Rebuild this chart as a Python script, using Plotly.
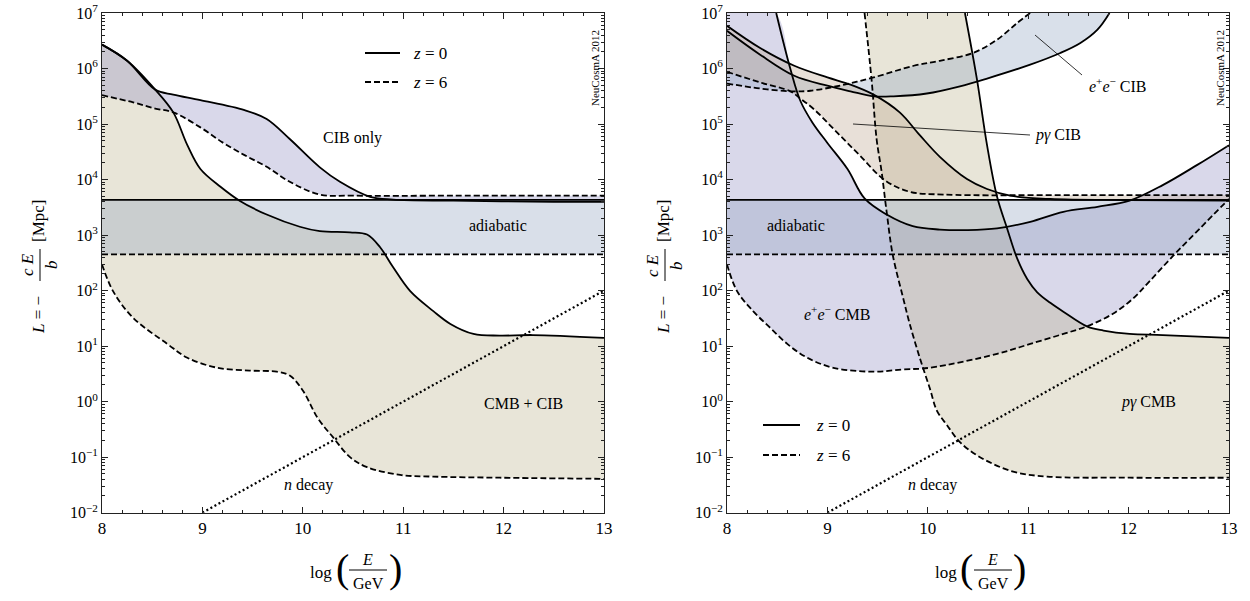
import numpy as np
import plotly.graph_objects as go

W, H = 1250, 601
SERIF = "'Liberation Serif', 'DejaVu Serif', 'Times New Roman', serif"

# ---------------------------------------------------------------------------
# Energy-loss lengths  L = -cE/b  versus log10(E/GeV); lengths stored as log10(L/Mpc)
# ---------------------------------------------------------------------------
E_MIN, E_MAX = 8.0, 13.0
LOG_L_MIN, LOG_L_MAX = -2, 7
LOG_L_OFF_TOP = 7.6          # closes filled regions above the frame

ADIABATIC_Z0 = 4.3e3
ADIABATIC_Z6 = 4.5e2

n_decay_x = [9.0, 13.0]
n_decay_logL = [-2.0, 2.0]

# left panel: CIB only
cib_z0_x = [8.00, 8.25, 8.53, 8.71, 8.98, 9.42, 9.64, 9.87, 10.17, 10.37, 10.67, 10.90, 11.50, 12.50, 13.00]
cib_z0_logL = [6.43, 6.14, 5.62, 5.53, 5.43, 5.25, 5.09, 4.73, 4.22, 3.96, 3.69, 3.64, 3.62, 3.60, 3.60]
cib_z6_x = [8.00, 8.31, 8.53, 8.71, 8.98, 9.20, 9.42, 9.64, 9.87, 10.17, 10.50, 11.50, 13.00]
cib_z6_logL = [5.52, 5.39, 5.28, 5.21, 4.94, 4.67, 4.44, 4.23, 3.96, 3.73, 3.71, 3.71, 3.71]

# left panel: CMB + CIB
cmbcib_z0_x = [8.00, 8.25, 8.53, 8.71, 8.85, 8.98, 9.18, 9.37, 9.64, 9.97, 10.17, 10.47, 10.64,
               10.77, 10.90, 11.07, 11.30, 11.47, 11.70, 11.96, 12.29, 13.00]
cmbcib_z0_logL = [6.43, 6.14, 5.62, 5.21, 4.62, 4.19, 3.87, 3.62, 3.37, 3.15, 3.07, 3.05, 3.01,
                  2.78, 2.42, 1.99, 1.63, 1.40, 1.22, 1.19, 1.20, 1.15]
cmbcib_z6_x = [8.00, 8.11, 8.31, 8.65, 8.85, 9.15, 9.47, 9.74, 9.87, 10.00, 10.15, 10.30, 10.47,
               10.64, 10.97, 11.30, 11.96, 13.00]
cmbcib_z6_logL = [2.47, 1.99, 1.51, 1.04, 0.79, 0.61, 0.56, 0.54, 0.47, 0.20, -0.30, -0.64, -1.00,
                  -1.18, -1.32, -1.35, -1.37, -1.39]

# right panel: e+e- pair production on the CMB
eecmb_z0_x = [8.49, 8.63, 8.73, 8.85, 9.00, 9.20, 9.37, 9.59, 9.85, 10.12, 10.40, 10.69, 11.02,
              11.35, 11.69, 12.01, 12.34, 12.68, 13.00]
eecmb_z0_logL = [7.00, 6.00, 5.42, 5.03, 4.66, 4.19, 3.66, 3.37, 3.16, 3.10, 3.09, 3.12, 3.24,
                 3.42, 3.51, 3.62, 3.90, 4.26, 4.62]
eecmb_z6_x = [8.00, 8.10, 8.26, 8.43, 8.60, 8.80, 9.06, 9.45, 9.75, 10.02, 10.69, 11.02, 11.35,
              11.59, 11.84, 12.04, 12.21, 12.44, 12.71, 13.00]
eecmb_z6_logL = [2.47, 1.99, 1.63, 1.33, 1.04, 0.79, 0.61, 0.54, 0.58, 0.61, 0.86, 1.04, 1.22,
                 1.36, 1.58, 1.85, 2.17, 2.62, 3.12, 3.65]

# right panel: photo-pion production on the CMB
pgcmb_z0_x = [10.37, 10.49, 10.59, 10.69, 10.79, 10.89, 10.99, 11.09, 11.22, 11.35, 11.59, 11.75,
              12.01, 12.34, 13.00]
pgcmb_z0_logL = [7.00, 5.80, 4.62, 3.69, 3.12, 2.58, 2.21, 1.97, 1.78, 1.62, 1.35, 1.28,
                 1.22, 1.20, 1.15]
pgcmb_z6_x = [9.37, 9.44, 9.49, 9.54, 9.59, 9.65, 9.75, 9.82, 9.92, 10.02, 10.09, 10.19, 10.32,
              10.52, 10.85, 11.19, 12.01, 13.00]
pgcmb_z6_logL = [7.00, 5.80, 4.73, 4.14, 3.42, 2.65, 1.90, 1.40, 0.79, 0.24, -0.16, -0.42, -0.73,
                 -1.00, -1.26, -1.35, -1.37, -1.37]

# right panel: e+e- pair production on the CIB
eecib_z0_x = [8.00, 8.33, 8.67, 9.00, 9.23, 9.46, 9.66, 9.99, 10.32, 10.59, 11.02, 11.32, 11.52,
              11.69, 11.81]
eecib_z0_logL = [6.68, 6.25, 5.87, 5.69, 5.59, 5.50, 5.50, 5.55, 5.68, 5.82, 6.07, 6.28, 6.46,
                 6.70, 7.00]
eecib_z6_x = [8.00, 8.33, 8.63, 8.83, 9.17, 9.46, 9.86, 10.12, 10.45, 10.69, 10.89, 11.02]
eecib_z6_logL = [5.73, 5.64, 5.59, 5.60, 5.71, 5.84, 6.05, 6.14, 6.28, 6.52, 6.82, 7.00]

# right panel: photo-pion production on the CIB
pgcib_z0_x = [8.00, 8.33, 8.67, 9.00, 9.23, 9.46, 9.72, 9.92, 10.12, 10.39, 10.59, 10.82, 11.22,
              12.00, 13.00]
pgcib_z0_logL = [6.77, 6.37, 6.05, 5.84, 5.71, 5.53, 5.21, 4.80, 4.41, 4.01, 3.83, 3.71, 3.65,
                 3.63, 3.62]
pgcib_z6_x = [8.00, 8.33, 8.63, 8.73, 8.87, 9.10, 9.32, 9.57, 9.82, 10.16, 11.50, 13.00]
pgcib_z6_logL = [5.94, 5.75, 5.59, 5.46, 5.26, 4.84, 4.44, 3.99, 3.78, 3.73, 3.72, 3.72]

# fill colours (translucent so that overlapping regions darken)
BEIGE = "rgba(189,181,144,0.35)"
LAVENDER = "rgba(146,144,195,0.35)"
BAND = "rgba(146,164,192,0.35)"
BLUE = "rgba(147,166,195,0.35)"
TAN = "rgba(189,166,144,0.35)"

LW = 1.8
DASH = "6px,3px"
DOT = "2px,2.6px"

fig = go.Figure()


def L(logs):
    return (10.0 ** np.asarray(logs, dtype=float)).tolist()


def region(lo_x, lo_log, hi_x, hi_log, color, xa, ya):
    """Fill the area between two curves (lower first, upper second)."""
    common = dict(mode="lines", hoverinfo="skip", showlegend=False, xaxis=xa, yaxis=ya)
    fig.add_trace(go.Scatter(x=lo_x, y=L(lo_log), line=dict(width=0, shape="spline"), **common))
    fig.add_trace(go.Scatter(x=hi_x, y=L(hi_log), line=dict(width=0, shape="spline"),
                             fill="tonexty", fillcolor=color, **common))


def curve(x, logs, xa, ya, dash="solid", width=LW, shape="spline"):
    fig.add_trace(go.Scatter(x=x, y=L(logs), mode="lines", hoverinfo="skip", showlegend=False,
                             line=dict(color="black", width=width, dash=dash, shape=shape),
                             xaxis=xa, yaxis=ya))


band_x = [E_MIN, E_MAX]
band_lo = [np.log10(ADIABATIC_Z6)] * 2
band_hi = [np.log10(ADIABATIC_Z0)] * 2

# ---------------- left panel ----------------
region(cmbcib_z6_x, cmbcib_z6_logL, cmbcib_z0_x, cmbcib_z0_logL, BEIGE, "x", "y")
region(cib_z6_x, cib_z6_logL, cib_z0_x, cib_z0_logL, LAVENDER, "x", "y")
region(band_x, band_lo, band_x, band_hi, BAND, "x", "y")

curve(band_x, band_hi, "x", "y")
curve(band_x, band_lo, "x", "y", dash=DASH)
curve(cib_z0_x, cib_z0_logL, "x", "y")
curve(cib_z6_x, cib_z6_logL, "x", "y", dash=DASH)
curve(cmbcib_z0_x, cmbcib_z0_logL, "x", "y")
curve(cmbcib_z6_x, cmbcib_z6_logL, "x", "y", dash=DASH)
curve(n_decay_x, n_decay_logL, "x", "y", dash=DOT, width=2.2, shape="linear")

# ---------------- right panel ----------------
region(eecmb_z6_x, eecmb_z6_logL, [E_MIN] + eecmb_z0_x, [LOG_L_OFF_TOP] + eecmb_z0_logL,
       LAVENDER, "x2", "y2")
region(pgcmb_z6_x, pgcmb_z6_logL, pgcmb_z0_x, pgcmb_z0_logL, BEIGE, "x2", "y2")
region(eecib_z0_x, eecib_z0_logL, eecib_z6_x, eecib_z6_logL, BLUE, "x2", "y2")
region(pgcib_z6_x, pgcib_z6_logL, pgcib_z0_x, pgcib_z0_logL, TAN, "x2", "y2")
region(band_x, band_lo, band_x, band_hi, BAND, "x2", "y2")

curve(band_x, band_hi, "x2", "y2")
curve(band_x, band_lo, "x2", "y2", dash=DASH)
curve(eecmb_z0_x, eecmb_z0_logL, "x2", "y2")
curve(eecmb_z6_x, eecmb_z6_logL, "x2", "y2", dash=DASH)
curve(pgcmb_z0_x, pgcmb_z0_logL, "x2", "y2")
curve(pgcmb_z6_x, pgcmb_z6_logL, "x2", "y2", dash=DASH)
curve(eecib_z0_x, eecib_z0_logL, "x2", "y2")
curve(eecib_z6_x, eecib_z6_logL, "x2", "y2", dash=DASH)
curve(pgcib_z0_x, pgcib_z0_logL, "x2", "y2")
curve(pgcib_z6_x, pgcib_z6_logL, "x2", "y2", dash=DASH)
curve(n_decay_x, n_decay_logL, "x2", "y2", dash=DOT, width=2.2, shape="linear")

# ---------------- axes ----------------
x_ticks = [8, 9, 10, 11, 12, 13]
y_exps = list(range(LOG_L_MIN, LOG_L_MAX + 1))
y_tickvals = [10.0 ** k for k in y_exps]
y_ticktext = ["10<sup>%s</sup>" % (str(k).replace("-", "\u2212")) for k in y_exps]
y_minor = [m * 10.0 ** k for k in range(LOG_L_MIN, LOG_L_MAX) for m in range(2, 10)]
EPS = 2e-4   # keeps the end ticks (10^-2, 10^7) inside the axis range

FRAME_TOP, FRAME_BOTTOM = 13, 512.7   # pixel rows of the frame

tickfont = dict(family=SERIF, size=16, color="black")


def xaxis(domain, anchor):
    return dict(domain=domain, anchor=anchor, range=[E_MIN - 1e-4, E_MAX + 1e-4],
                tickmode="array",
                tickvals=x_ticks, ticks="inside", ticklen=6, tickcolor="#222", tickwidth=1,
                minor=dict(tick0=8, dtick=0.2, ticks="inside", ticklen=3, tickcolor="#222"),
                showline=True, linecolor="#222", linewidth=1, mirror="allticks",
                showgrid=False, zeroline=False, tickfont=dict(tickfont, size=17),
                automargin=False, ticklabeloverflow="allow")


def yaxis(anchor):
    return dict(domain=[1 - FRAME_BOTTOM / H, 1 - FRAME_TOP / H], anchor=anchor, type="log",
                range=[LOG_L_MIN - EPS, LOG_L_MAX + EPS], tickmode="array", tickvals=y_tickvals,
                ticktext=y_ticktext, ticks="inside", ticklen=6, tickcolor="#222", tickwidth=1,
                minor=dict(tickmode="array", tickvals=y_minor, ticks="inside", ticklen=3,
                           tickcolor="#222"),
                showline=True, linecolor="#222", linewidth=1, mirror="allticks",
                showgrid=False, zeroline=False, tickfont=tickfont, automargin=False,
                ticklabeloverflow="allow")


fig.update_layout(
    width=W, height=H, autosize=False,
    margin=dict(l=0, r=0, t=0, b=0),
    paper_bgcolor="white", plot_bgcolor="white",
    font=dict(family=SERIF, color="black"),
    xaxis=xaxis([102 / W, 604 / W], "y"),
    yaxis=yaxis("x"),
    xaxis2=xaxis([727 / W, 1229 / W], "y2"),
    yaxis2=yaxis("x2"),
    showlegend=False,
)


# ---------------- text, labels and keys (pixel positions on the page) ----------------
def P(px, py):
    return px / W, 1 - py / H


def text(px, py, s, size=16, angle=0, xanchor="center"):
    x, y = P(px, py)
    fig.add_annotation(x=x, y=y, xref="paper", yref="paper", text=s, showarrow=False,
                       textangle=angle, xanchor=xanchor, yanchor="middle",
                       font=dict(family=SERIF, size=size, color="black"))


def seg(p0, p1, dash="solid", width=LW):
    x0, y0 = P(*p0)
    x1, y1 = P(*p1)
    fig.add_shape(type="line", xref="paper", yref="paper", x0=x0, y0=y0, x1=x1, y1=y1,
                  line=dict(color="black", width=width, dash=dash))


for dx in (0, 625):
    # y axis title:  L = - cE/b [Mpc]
    text(38 + dx, 315, "<i>L</i> = \u2212", size=17, angle=-90)
    text(27 + dx, 265, "<i>c E</i>", size=17, angle=-90)
    text(51 + dx, 265, "<i>b</i>", size=17, angle=-90)
    seg((40 + dx, 249), (40 + dx, 281), width=1)
    text(38 + dx, 221, "[Mpc]", size=17, angle=-90)
    # x axis title:  log(E/GeV)
    text(321 + dx, 572, "log", size=17)
    text(342 + dx, 568, "(", size=40)
    text(395 + dx, 568, ")", size=40)
    text(367 + dx, 559, "<i>E</i>", size=16)
    seg((349 + dx, 570), (387 + dx, 570), width=1)
    text(368 + dx, 583, "GeV", size=16)
    # watermark
    text(595 + dx, 68, "NeuCosmA 2012", size=11, angle=-90)
    # neutron decay
    text(308 + dx, 485, "<i>n</i> decay", size=16)

# left panel labels and key
text(352, 138, "CIB only", size=16)
text(498, 225, "adiabatic", size=16)
text(523, 403, "CMB + CIB", size=16)
seg((365, 53), (400, 53))
seg((365, 82), (400, 82), dash=DASH)
text(411, 53, "<i>z</i> = 0", size=17, xanchor="left")
text(411, 82, "<i>z</i> = 6", size=17, xanchor="left")

# right panel labels and key
text(796, 225, "adiabatic", size=16)
text(837, 313, "<i>e</i><sup>+</sup><i>e</i><sup>\u2212</sup> CMB", size=16)
text(1148, 402, "<i>p</i><i>\u03b3</i> CMB", size=16)
text(1033, 135, "<i>p</i><i>\u03b3</i> CIB", size=16, xanchor="left")
text(1087, 85, "<i>e</i><sup>+</sup><i>e</i><sup>\u2212</sup> CIB", size=16, xanchor="left")
seg((853, 124), (1030, 135), width=0.8)
seg((1035, 35), (1082, 75), width=0.8)
seg((763, 425), (800, 425))
seg((763, 455), (800, 455), dash=DASH)
text(814, 425, "<i>z</i> = 0", size=17, xanchor="left")
text(814, 455, "<i>z</i> = 6", size=17, xanchor="left")

fig.write_html("out.html")
